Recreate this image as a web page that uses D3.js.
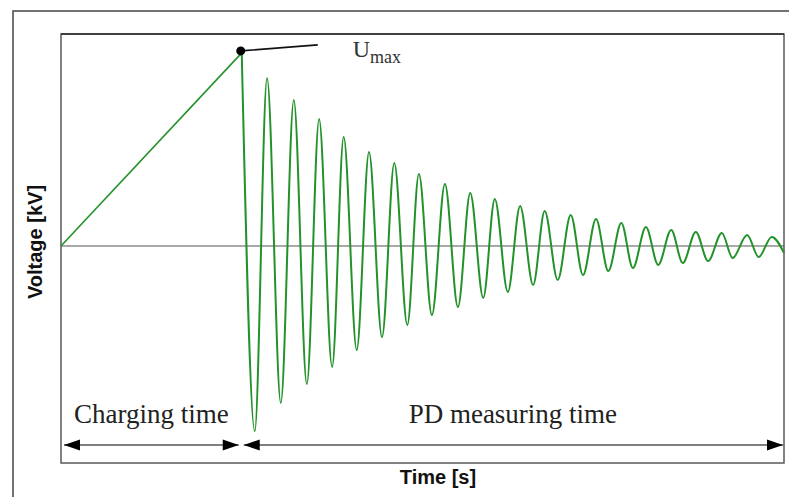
<!DOCTYPE html>
<html>
<head>
<meta charset="utf-8">
<script src="https://cdn.jsdelivr.net/npm/d3@7/dist/d3.min.js"></script>
<style>
  html, body { margin: 0; padding: 0; background: #fff; }
  svg { display: block; }
</style>
</head>
<body>
<svg id="chart" width="789" height="497"></svg>
<script>
// charging ramp (time in % of record, voltage in % of Umax)
const rampTime = [0, 25];
const rampVolt = [0, 100];

// damped oscillation after breakdown: local maxima and minima
const peakTime = [28.5, 32.2, 35.7, 39.1, 42.6, 46.1, 49.5, 53.1, 56.6, 60.0, 63.5,
  66.9, 70.5, 74.0, 77.5, 80.9, 84.4, 87.8, 91.4, 94.9, 98.3];
const peakVolt = [87.0, 75.6, 65.8, 56.5, 48.7, 43.0, 37.3, 32.1, 27.5, 24.4, 20.7,
  18.1, 16.1, 14.0, 11.9, 9.8, 8.3, 7.3, 6.7, 5.7, 4.7];
const troughTime = [26.8, 30.4, 34.0, 37.5, 40.9, 44.4, 47.9, 51.3, 54.9, 58.4, 61.8,
  65.3, 68.7, 72.2, 75.7, 79.1, 82.6, 86.0, 89.5, 92.9, 96.5];
const troughVolt = [-95.9, -81.3, -71.5, -62.7, -53.9, -47.2, -40.9, -35.8, -31.6, -26.9, -23.8,
  -20.2, -17.6, -15.0, -13.0, -11.4, -9.8, -8.8, -7.8, -6.2, -5.7];
const endPoint = [100, -3.6];

// time phases shown under the curve
const phaseLabels = ["Charging time", "PD measuring time"];
const phaseStart = [0, 25];
const phaseEnd = [25, 100];

const xTitle = "Time [s]";
const yTitle = "Voltage [kV]";

const render = () => {
    const svg = d3.select('#chart');
    const plot = { left: 61, right: 784, top: 34, bottom: 463 };
    const green = "#23922a";
    const serif = "'Liberation Serif', 'Times New Roman', serif";
    const sans = "'Liberation Sans', Arial, sans-serif";

    const x = d3.scaleLinear().domain([0, 100]).range([plot.left, plot.right]);
    const y = d3.scaleLinear().domain([-112.4, 109.8]).range([plot.bottom, plot.top]);

    // outer figure frame (only top/left visible)
    svg.append("path")
        .attr("d", `M13,497 V11 H789`)
        .attr("fill", "none")
        .attr("stroke", "#444")
        .attr("stroke-width", 1.5);

    // plot frame
    svg.append("rect")
        .attr("x", plot.left).attr("y", plot.top)
        .attr("width", plot.right - plot.left)
        .attr("height", plot.bottom - plot.top)
        .attr("fill", "none")
        .attr("stroke", "#5a5a5a")
        .attr("stroke-width", 1.5);
    svg.append("line")
        .attr("x1", plot.left).attr("x2", plot.right)
        .attr("y1", plot.top).attr("y2", plot.top)
        .attr("stroke", "#2a2a2a")
        .attr("stroke-width", 1.5);

    // zero line
    svg.append("line")
        .attr("x1", x(0)).attr("x2", x(100))
        .attr("y1", y(0)).attr("y2", y(0))
        .attr("stroke", "#555")
        .attr("stroke-width", 1);

    // ramp
    const ramp = rampTime.map((t, i) => [t, rampVolt[i]]);
    const lineLin = d3.line().x(d => x(d[0])).y(d => y(d[1]));
    svg.append("path")
        .datum(ramp)
        .attr("d", lineLin)
        .attr("fill", "none")
        .attr("stroke", green)
        .attr("stroke-width", 1.6);

    // oscillation
    let osc = [ramp[ramp.length - 1]];
    peakTime.forEach((t, i) => {
        osc.push([troughTime[i], troughVolt[i]]);
        osc.push([t, peakVolt[i]]);
    });
    osc.push(endPoint);
    osc.sort((a, b) => a[0] - b[0]);
    const lineSmooth = d3.line()
        .x(d => x(d[0]))
        .y(d => y(d[1]))
        .curve(d3.curveMonotoneX);
    svg.append("path")
        .datum(osc)
        .attr("d", lineSmooth)
        .attr("fill", "none")
        .attr("stroke", green)
        .attr("stroke-width", 2);

    // Umax marker
    const ux = x(rampTime[1]) - 1, uy = y(rampVolt[1]) - 2;
    svg.append("line")
        .attr("x1", ux).attr("y1", uy)
        .attr("x2", ux + 77).attr("y2", uy - 6)
        .attr("stroke", "#111")
        .attr("stroke-width", 1.6);
    svg.append("circle")
        .attr("cx", ux).attr("cy", uy).attr("r", 4.5)
        .attr("fill", "#000");
    const ut = svg.append("text")
        .attr("x", ux + 112).attr("y", uy + 6)
        .attr("font-family", serif)
        .attr("fill", "#333");
    ut.append("tspan").attr("font-size", 24).text("U");
    ut.append("tspan").attr("font-size", 18).attr("dy", 6).text("max");

    // phase arrows
    const arrowY = 445;
    const head = (tipX, dir) => {
        const l = 16, w = 5.5;
        return `M${tipX},${arrowY} L${tipX - dir * l},${arrowY - w} L${tipX - dir * l},${arrowY + w} Z`;
    };
    phaseLabels.forEach((lab, i) => {
        const x0 = x(phaseStart[i]) + (i === 0 ? 3 : 2);
        const x1 = x(phaseEnd[i]) - (i === 0 ? 3 : 1);
        svg.append("line")
            .attr("x1", x0).attr("x2", x1)
            .attr("y1", arrowY).attr("y2", arrowY)
            .attr("stroke", "#555")
            .attr("stroke-width", 1.5);
        svg.append("path").attr("d", head(x0, -1)).attr("fill", "#000");
        svg.append("path").attr("d", head(x1, 1)).attr("fill", "#000");
        svg.append("text")
            .attr("x", x((phaseStart[i] + phaseEnd[i]) / 2))
            .attr("y", 423)
            .attr("text-anchor", "middle")
            .attr("font-family", serif)
            .attr("font-size", 27)
            .attr("fill", "#222")
            .text(lab);
    });

    // axis titles
    svg.append("text")
        .attr("x", 438).attr("y", 484)
        .attr("text-anchor", "middle")
        .attr("font-family", sans)
        .attr("font-weight", "bold")
        .attr("font-size", 20)
        .attr("fill", "#111")
        .text(xTitle);
    svg.append("text")
        .attr("transform", "translate(42,242) rotate(-90)")
        .attr("text-anchor", "middle")
        .attr("font-family", sans)
        .attr("font-weight", "bold")
        .attr("font-size", 20)
        .attr("fill", "#111")
        .text(yTitle);
};
render();
</script>
</body>
</html>
